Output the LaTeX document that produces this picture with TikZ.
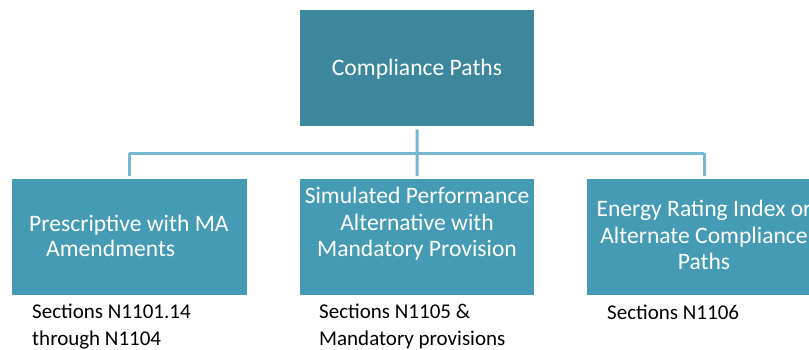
\documentclass[tikz,border=0pt]{standalone}
\usepackage{fontspec}
\setmainfont{Carlito}
\definecolor{topfill}{RGB}{60,135,156}
\definecolor{boxfill}{RGB}{69,154,180}
\definecolor{linecol}{RGB}{118,184,208}
\tikzset{
  x=1pt, y=-1pt,
  topbox/.style={fill=topfill, draw=none, inner sep=0, anchor=north west},
  subbox/.style={fill=boxfill, draw=none, inner sep=0, anchor=north west},
  conn/.style={draw=linecol, line width=3pt},
  wtext/.style={text=white, inner sep=0, font=\fontsize{23.6}{26.5}\selectfont},
  btext/.style={text=black, inner sep=0, anchor=base west, font=\fontsize{21}{26.5}\selectfont},
}
\begin{document}
\begin{tikzpicture}
\useasboundingbox (0,0) rectangle (809,349);
\clip (0,0) rectangle (809,349);
% boxes
\node[topbox, minimum width=234pt, minimum height=116pt] (top) at (300,10) {};
\node[subbox, minimum width=235pt, minimum height=116pt] (b1) at (12,179) {};
\node[subbox, minimum width=234pt, minimum height=116pt] (b2) at (300,179) {};
\node[subbox, minimum width=234pt, minimum height=116pt] (b3) at (587,179) {};
% connectors
\coordinate (hj) at (417,153);
\coordinate (hl) at (129,153);
\coordinate (hr) at (704,153);
\draw[conn] ([yshift=-3pt]top.south) -- (hj);
\draw[conn] (hl) -- (hr);
\draw[conn] (hl) -- ([yshift=3pt]hl |- b1.north);
\draw[conn] (hj) -- ([yshift=3pt]b2.north);
\draw[conn] (hr) -- ([yshift=3pt]hr |- b3.north);
% texts
\node[wtext, anchor=base] (tt) at (417,75) {Compliance Paths};
\node[wtext, anchor=base west] (t1a) at (29,231) {Prescriptive with MA};
\node[wtext, anchor=base west] (t1b) at (46,256) {Amendments};
\node[wtext, anchor=base] (t2a) at (417,203) {Simulated Performance};
\node[wtext, anchor=base] (t2b) at (417,230) {Alternative with};
\node[wtext, anchor=base] (t2c) at (417,256) {Mandatory Provision};
\node[wtext, anchor=base] (t3a) at (704,216) {Energy Rating Index or};
\node[wtext, anchor=base] (t3b) at (704,243) {Alternate Compliance};
\node[wtext, anchor=base] (t3c) at (704,269) {Paths};
\node[btext] (s1a) at (32,318) {Sections N1101.14};
\node[btext] (s1b) at (32,345) {through N1104};
\node[btext] (s2a) at (319,318) {Sections N1105 \&};
\node[btext] (s2b) at (319,345) {Mandatory provisions};
\node[btext] (s3a) at (607,319) {Sections N1106};
\end{tikzpicture}
\end{document}
